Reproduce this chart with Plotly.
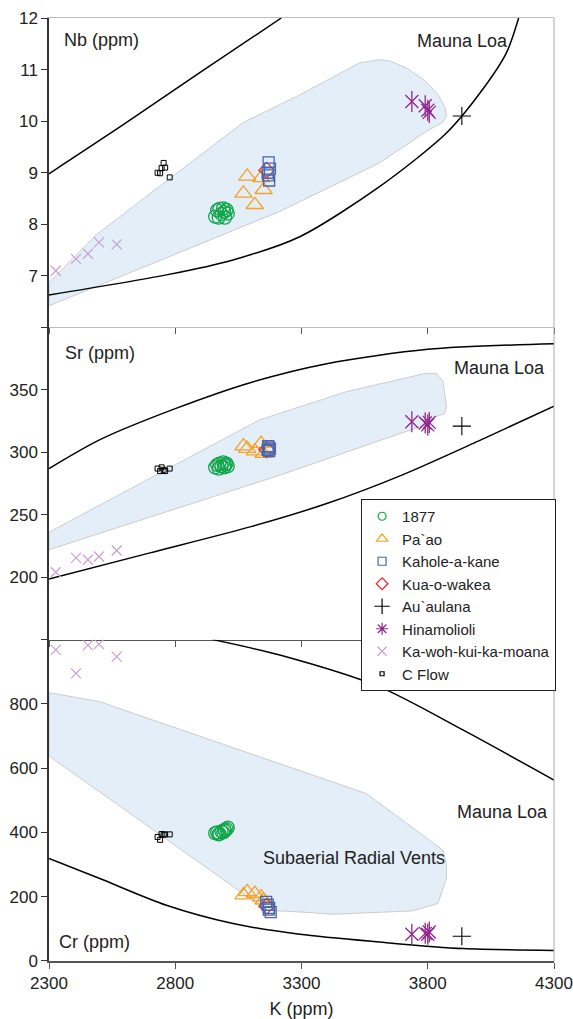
import plotly.graph_objects as go

# ---------------- data ----------------
K_TICKS = [2300, 2800, 3300, 3800, 4300]

# sample groups (K ppm) and element concentrations
K_1877 = [2958, 2966, 2975, 2983, 2990, 2997, 3003, 3008, 2972, 2994]
NB_1877 = [8.15, 8.27, 8.30, 8.20, 8.31, 8.13, 8.28, 8.21, 8.13, 8.24]
SR_1877 = [288, 290, 291, 289, 292, 290, 291, 289, 287, 288]
CR_1877 = [398, 400, 396, 403, 400, 405, 410, 415, 394, 408]

K_PAAO = [3070, 3085, 3115, 3140, 3150]
NB_PAAO = [8.60, 8.93, 8.38, 8.90, 8.67]
SR_PAAO = [305, 303, 301, 307, 299]
CR_PAAO = [205, 215, 210, 199, 189]

K_KAHOLE = [3166, 3170, 3172, 3175, 3168]
NB_KAHOLE = [9.00, 9.20, 8.85, 9.08, 8.95]
SR_KAHOLE = [302, 304, 301, 303, 305]
K_KAHOLE_CR = [3160, 3170, 3178, 3172, 3166]
CR_KAHOLE = [184, 160, 152, 165, 175]

K_KUA = [3162]
NB_KUA = [9.05]
SR_KUA = [302]
CR_KUA = [170]

K_AUAU = [3935]
NB_AUAU = [10.10]
SR_AUAU = [321]
CR_AUAU = [77]

K_HINA = [3737, 3790, 3800, 3806]
NB_HINA = [10.38, 10.30, 10.21, 10.17]
SR_HINA = [324.5, 323.5, 322, 324]
CR_HINA = [83, 86, 83, 90]

K_KAWOH = [2327, 2407, 2454, 2498, 2568]
NB_KAWOH = [7.10, 7.33, 7.43, 7.65, 7.61]
SR_KAWOH = [204, 215.5, 214, 216.6, 221.4]
CR_KAWOH = [968, 895, 983, 986, 947]

K_CFLOW = [2730, 2740, 2746, 2754, 2760, 2778]
NB_CFLOW = [9.00, 8.99, 9.09, 9.19, 9.10, 8.91]
SR_CFLOW = [287, 285, 288, 286, 285, 287]
CR_CFLOW = [386, 377, 395, 393, 394, 394]

# Mauna Loa field boundaries
NB_UP_K = [2300, 2600, 2900, 3220]
NB_UP = [8.98, 9.95, 10.95, 12.0]
NB_LO_K = [2300, 2765, 3029, 3293, 3609, 3874, 4006, 4111, 4160]
NB_LO = [6.63, 7.02, 7.31, 7.76, 8.73, 9.77, 10.54, 11.32, 12.0]

SR_UP_K = [2300, 2500, 2800, 3100, 3400, 3800, 4300]
SR_UP = [287, 310, 335, 356, 371, 382.5, 387]
SR_LO_K = [2300, 2700, 3100, 3400, 3700, 4000, 4300]
SR_LO = [198.6, 219.5, 240.5, 259, 282, 309, 337]

CR_UP_K = [2949, 3214, 3609, 3939, 4300]
CR_UP = [1000, 952, 853, 719, 563]
CR_LO_K = [2300, 2501, 2765, 3029, 3293, 3609, 3939, 4300]
CR_LO = [319, 256.7, 173.5, 116.5, 83, 59, 38.6, 33]

# Subaerial radial vents fields
NB_FIELD_K = [2300, 2300, 2488, 3068, 3293, 3530, 3603, 3649, 3720, 3790, 3840, 3870, 3874, 3860, 3794, 3609, 3214, 2300]
NB_FIELD = [6.42, 6.87, 7.80, 9.97, 10.51, 11.13, 11.19, 11.17, 11.02, 10.78, 10.52, 10.25, 10.10, 9.98, 9.80, 9.19, 8.25, 6.42]
SR_FIELD_K = [2300, 2300, 3134, 3478, 3794, 3835, 3860, 3874, 3866, 3834, 3768, 3214, 2300]
SR_FIELD = [222, 236, 326, 348.6, 363.4, 363, 357, 337, 331, 328.6, 320.5, 281.7, 222]
CR_FIELD_K = [2300, 2501, 2633, 3293, 3557, 3860, 3874, 3874, 3840, 3741, 3425, 3293, 3161, 2300, 2300]
CR_FIELD = [835, 807, 771, 594, 521, 345, 300, 256.7, 179, 156, 145.5, 152.6, 158, 638, 835]

# ---------------- styles ----------------
FONT = "Liberation Sans, Arial, sans-serif"
C_GREEN = "#10a64a"
C_ORANGE = "#f5a327"
C_BLUE = "#4a66ad"
C_RED = "#e8262b"
C_PURPLE = "#93278f"
C_LILAC = "#c9a0d4"
FILL = "#e3eef8"
FILL_LINE = "#cccccc"

fig = go.Figure()

panels = [
    ("x", "y", NB_FIELD_K, NB_FIELD, NB_UP_K, NB_UP, NB_LO_K, NB_LO,
     NB_1877, NB_PAAO, NB_KAHOLE, K_KAHOLE, NB_KUA, NB_AUAU, NB_HINA, NB_KAWOH, NB_CFLOW),
    ("x2", "y2", SR_FIELD_K, SR_FIELD, SR_UP_K, SR_UP, SR_LO_K, SR_LO,
     SR_1877, SR_PAAO, SR_KAHOLE, K_KAHOLE, SR_KUA, SR_AUAU, SR_HINA, SR_KAWOH, SR_CFLOW),
    ("x3", "y3", CR_FIELD_K, CR_FIELD, CR_UP_K, CR_UP, CR_LO_K, CR_LO,
     CR_1877, CR_PAAO, CR_KAHOLE, K_KAHOLE_CR, CR_KUA, CR_AUAU, CR_HINA, CR_KAWOH, CR_CFLOW),
]

for (xa, ya, fk, fv, uk, uv, lk, lv, v1877, vpaao, vkah, kkah, vkua, vauau, vhina, vkawoh, vcflow) in panels:
    common = dict(xaxis=xa, yaxis=ya, showlegend=False, hoverinfo="skip")
    fig.add_trace(go.Scatter(x=fk, y=fv, mode="lines", fill="toself", fillcolor=FILL,
                             line=dict(color=FILL_LINE, width=1), **common))
    fig.add_trace(go.Scatter(x=uk, y=uv, mode="lines", line=dict(color="black", width=1.5, shape="spline", smoothing=0.8), **common))
    fig.add_trace(go.Scatter(x=lk, y=lv, mode="lines", line=dict(color="black", width=1.5, shape="spline", smoothing=0.8), **common))
    fig.add_trace(go.Scatter(x=K_KAWOH, y=vkawoh, mode="markers",
                             marker=dict(symbol="x-thin-open", size=10, color=C_LILAC, line=dict(width=1.2, color=C_LILAC)), **common))
    fig.add_trace(go.Scatter(x=K_CFLOW, y=vcflow, mode="markers",
                             marker=dict(symbol="square-open", size=5, color="black", line=dict(width=1, color="black")), **common))
    fig.add_trace(go.Scatter(x=K_1877, y=v1877, mode="markers",
                             marker=dict(symbol="circle-open", size=13, color=C_GREEN, line=dict(width=1.3, color=C_GREEN)), **common))
    fig.add_trace(go.Scatter(x=K_PAAO, y=vpaao, mode="markers",
                             marker=dict(symbol="triangle-up-open", size=15, color=C_ORANGE, line=dict(width=1.3, color=C_ORANGE)), **common))
    fig.add_trace(go.Scatter(x=K_KUA, y=vkua, mode="markers",
                             marker=dict(symbol="diamond-open", size=12, color=C_RED, line=dict(width=1.2, color=C_RED)), **common))
    fig.add_trace(go.Scatter(x=kkah, y=vkah, mode="markers",
                             marker=dict(symbol="square-open", size=11, color=C_BLUE, line=dict(width=1.3, color=C_BLUE)), **common))
    fig.add_trace(go.Scatter(x=K_AUAU, y=vauau, mode="markers",
                             marker=dict(symbol="cross-thin-open", size=13, color="black", line=dict(width=1.1, color="black")), **common))
    fig.add_trace(go.Scatter(x=K_HINA, y=vhina, mode="markers",
                             marker=dict(symbol="x-thin-open", size=13, color=C_PURPLE, line=dict(width=1.3, color=C_PURPLE)), **common))
    fig.add_trace(go.Scatter(x=K_HINA, y=vhina, mode="markers",
                             marker=dict(symbol="line-ns-open", size=15, color=C_PURPLE, line=dict(width=1.3, color=C_PURPLE)), **common))

# legend entries
legend_items = [
    ("1877", "circle-open", 8, C_GREEN),
    ("Pa`ao", "triangle-up-open", 10, C_ORANGE),
    ("Kahole-a-kane", "square-open", 8, C_BLUE),
    ("Kua-o-wakea", "diamond-open", 9, C_RED),
    ("Au`aulana", "cross-thin-open", 11, "black"),
    ("Hinamolioli", "asterisk-open", 10, C_PURPLE),
    ("Ka-woh-kui-ka-moana", "x-thin-open", 9, C_LILAC),
    ("C Flow", "square-open", 4, "black"),
]
for name, sym, sz, col in legend_items:
    fig.add_trace(go.Scatter(x=[None], y=[None], mode="markers", name=name, xaxis="x2", yaxis="y2",
                             marker=dict(symbol=sym, size=sz, color=col, line=dict(width=1.2, color=col))))

# ---------------- layout ----------------
tickfont = dict(family=FONT, size=17, color="#222")

def xax(anchor, linecolor, lw, labels, mirror=False, title=None):
    d = dict(domain=[0, 1], anchor=anchor, range=[2300, 4300], tickvals=K_TICKS,
             ticks="outside", ticklen=6, tickcolor="#555", tickwidth=1,
             showline=True, linecolor=linecolor, linewidth=lw, mirror=mirror,
             showgrid=False, zeroline=False, showticklabels=labels, tickfont=tickfont)
    if title:
        d["title"] = dict(text=title, font=dict(family=FONT, size=18, color="#222"), standoff=16)
    return d

def yax(anchor, dom, rng, vals, text):
    return dict(domain=dom, anchor=anchor, range=rng, tickvals=vals, ticktext=text,
                ticks="outside", ticklen=6, tickcolor="#333", tickwidth=1,
                showline=True, linecolor="#333", linewidth=1.5,
                showgrid=False, zeroline=False, tickfont=tickfont)

D1 = 0.6718
D2 = 0.3408

ann_font = dict(family=FONT, size=18, color="#222")
annotations = [
    dict(x=2350, y=11.58, xref="x", yref="y", text="Nb (ppm)", xanchor="left", yanchor="middle", showarrow=False, font=ann_font),
    dict(x=4125, y=11.55, xref="x", yref="y", text="Mauna Loa", xanchor="right", yanchor="middle", showarrow=False, font=ann_font),
    dict(x=2354, y=379.7, xref="x2", yref="y2", text="Sr (ppm)", xanchor="left", yanchor="middle", showarrow=False, font=ann_font),
    dict(x=4271, y=367.7, xref="x2", yref="y2", text="Mauna Loa", xanchor="right", yanchor="middle", showarrow=False, font=ann_font),
    dict(x=2330, y=59, xref="x3", yref="y3", text="Cr (ppm)", xanchor="left", yanchor="middle", showarrow=False, font=ann_font),
    dict(x=4286, y=464, xref="x3", yref="y3", text="Mauna Loa", xanchor="right", yanchor="middle", showarrow=False, font=ann_font),
    dict(x=3878, y=321, xref="x3", yref="y3", text="Subaerial Radial Vents", xanchor="right", yanchor="middle", showarrow=False, font=ann_font),
]

fig.update_layout(
    width=573, height=1019,
    margin=dict(l=49, r=19, t=18, b=58, autoexpand=False),
    paper_bgcolor="white", plot_bgcolor="white",
    font=dict(family=FONT, color="#222"),
    xaxis=xax("y", "#bbbbbb", 1, False, mirror=True),
    xaxis2=xax("y2", "#555555", 1, False),
    xaxis3=xax("y3", "#555555", 2, True, title="K (ppm)"),
    yaxis=yax("x", [D1, 1], [6, 12], [6, 7, 8, 9, 10, 11, 12], ["", "7", "8", "9", "10", "11", "12"]),
    yaxis2=yax("x2", [D2, D1], [150, 400], [150, 200, 250, 300, 350, 400], ["", "200", "250", "300", "350", ""]),
    yaxis3=yax("x3", [0, D2], [0, 1000], [0, 200, 400, 600, 800, 1000], ["0", "200", "400", "600", "800", ""]),
    showlegend=True,
    legend=dict(x=0.618, y=0.4899, xanchor="left", yanchor="top", bgcolor="white",
                bordercolor="#222", borderwidth=1, font=dict(family=FONT, size=15, color="#222"),
                tracegroupgap=0, itemwidth=30),
    annotations=annotations,
    shapes=[dict(type="line", xref="paper", yref="paper", x0=1, x1=1, y0=0, y1=1,
                 line=dict(color="#aaaaaa", width=1))],
)

fig.write_html("out.html")
